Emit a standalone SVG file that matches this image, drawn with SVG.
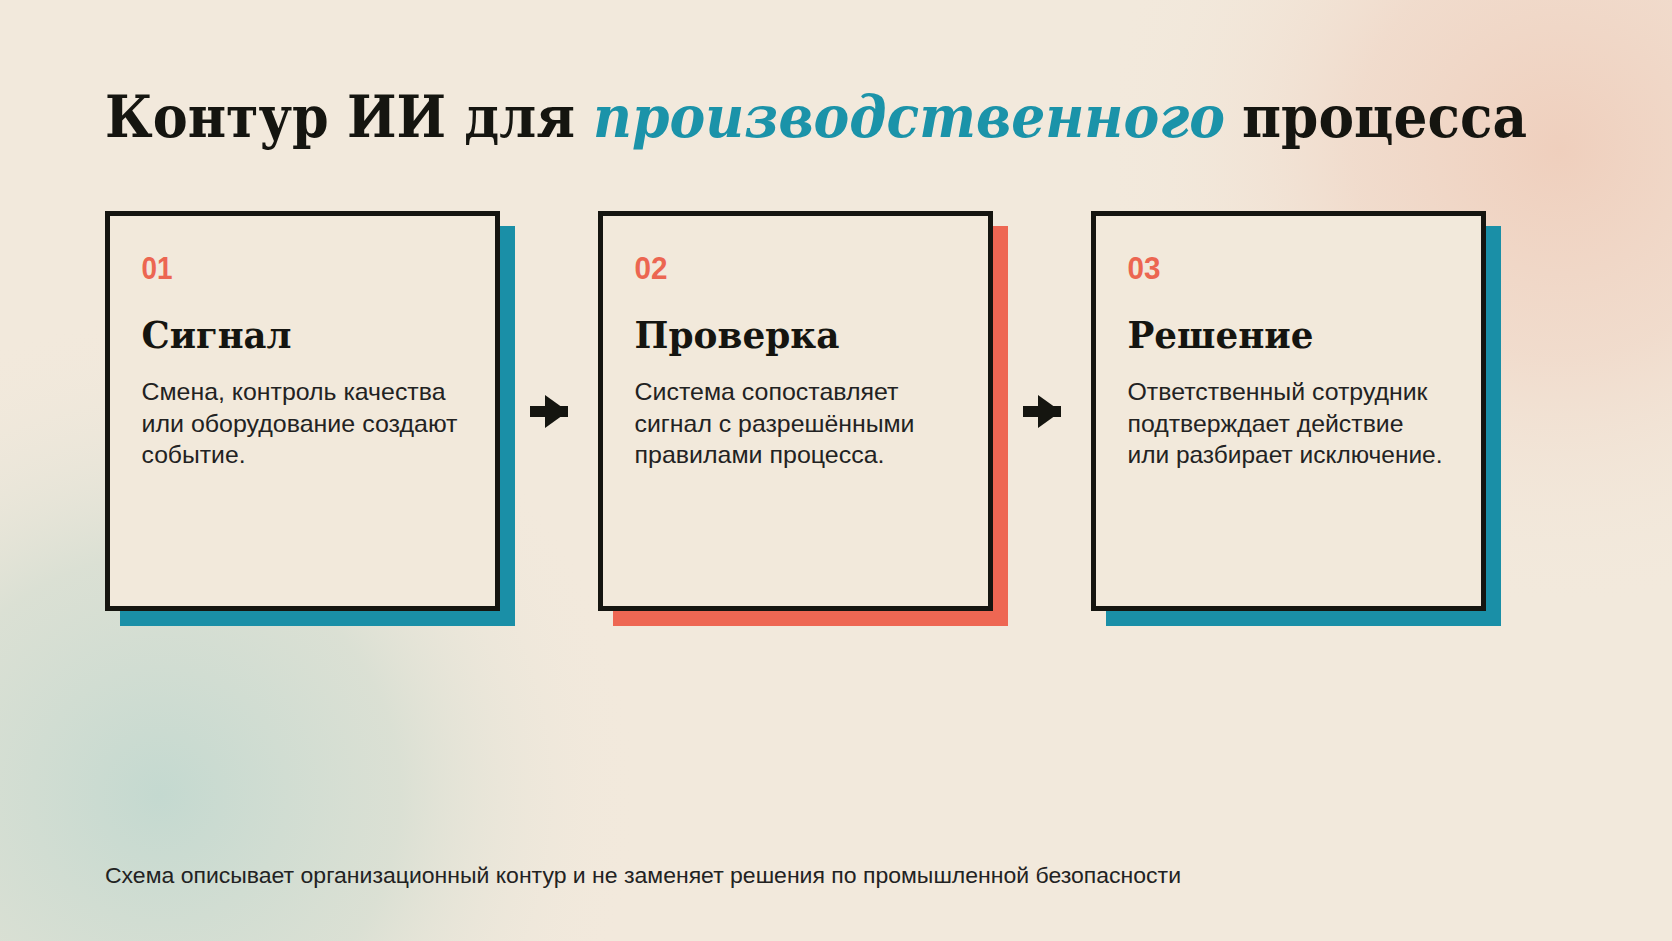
<svg xmlns="http://www.w3.org/2000/svg" width="1672" height="941" viewBox="0 0 1672 941">
<defs>
<radialGradient id="gPeach" cx="1560" cy="150" r="460" gradientUnits="userSpaceOnUse">
<stop offset="0" stop-color="#efcfbd" stop-opacity="1"/>
<stop offset="0.45" stop-color="#f0d6c6" stop-opacity="0.7"/>
<stop offset="1" stop-color="#f2e9dc" stop-opacity="0"/>
</radialGradient>
<radialGradient id="gTeal" cx="160" cy="795" r="480" gradientUnits="userSpaceOnUse">
<stop offset="0" stop-color="#c4d9d0" stop-opacity="1"/>
<stop offset="0.5" stop-color="#d3ddd1" stop-opacity="0.75"/>
<stop offset="1" stop-color="#f2e9dc" stop-opacity="0"/>
</radialGradient>
</defs>
<style>
.card{fill:#f2e9db;stroke:#151510;stroke-width:5}
.sh-teal{fill:#1a8fa7}
.sh-red{fill:#ee6753}
.num{font-family:"Liberation Sans",Arial,sans-serif;font-weight:bold;font-size:31px;fill:#ec6651}
.ttl{font-family:"DejaVu Serif","Liberation Serif",serif;font-weight:bold;font-size:37px;fill:#151510}
.body{font-family:"Liberation Sans",Arial,sans-serif;font-size:24px;fill:#222222}
.h1{font-family:"DejaVu Serif","Liberation Serif",serif;font-weight:bold;font-size:58px;fill:#151510}
.accent{fill:#1b93a9;font-style:italic}
.foot{font-family:"Liberation Sans",Arial,sans-serif;font-size:22px;fill:#222222}
.arrow{fill:#151510}
</style>
<rect x="0" y="0" width="1672" height="941" fill="#f2e9dc"/>
<rect x="0" y="0" width="1672" height="941" fill="url(#gPeach)"/>
<rect x="0" y="0" width="1672" height="941" fill="url(#gTeal)"/>

<g id="title">
<text class="h1" x="105" y="137" textLength="470" lengthAdjust="spacingAndGlyphs">Контур ИИ для</text>
<text class="h1 accent" transform="translate(593 137) scale(0.86 1)" x="0" y="0" textLength="735" lengthAdjust="spacingAndGlyphs">производственного</text>
<text class="h1" x="1242" y="137" textLength="285" lengthAdjust="spacingAndGlyphs">процесса</text>
</g>

<g id="connectors">
<g id="arrow-1-2" class="arrow">
<rect x="530" y="406" width="38" height="11"/>
<polygon points="545,395 568,411.5 545,428"/>
</g>
<g id="arrow-2-3" class="arrow">
<rect x="1023" y="406" width="38" height="11"/>
<polygon points="1038,395 1061,411.5 1038,428"/>
</g>
</g>

<g id="node-1">
<rect class="sh-teal" x="120" y="226" width="395" height="400"/>
<rect class="card" x="107.5" y="213.5" width="390" height="395"/>
<text class="num" x="141.5" y="279" textLength="31" lengthAdjust="spacingAndGlyphs">01</text>
<text class="ttl" x="141.5" y="348" textLength="150" lengthAdjust="spacingAndGlyphs">Сигнал</text>
<text class="body" x="141.5" y="400" textLength="304" lengthAdjust="spacingAndGlyphs">Смена, контроль качества</text>
<text class="body" x="141.5" y="432" textLength="316" lengthAdjust="spacingAndGlyphs">или оборудование создают</text>
<text class="body" x="141.5" y="463" textLength="104" lengthAdjust="spacingAndGlyphs">событие.</text>
</g>

<g id="node-2">
<rect class="sh-red" x="613" y="226" width="395" height="400"/>
<rect class="card" x="600.5" y="213.5" width="390" height="395"/>
<text class="num" x="634.5" y="279" textLength="33" lengthAdjust="spacingAndGlyphs">02</text>
<text class="ttl" x="634.5" y="348" textLength="205" lengthAdjust="spacingAndGlyphs">Проверка</text>
<text class="body" x="634.5" y="400" textLength="264" lengthAdjust="spacingAndGlyphs">Система сопоставляет</text>
<text class="body" x="634.5" y="432" textLength="280" lengthAdjust="spacingAndGlyphs">сигнал с разрешёнными</text>
<text class="body" x="634.5" y="463" textLength="250" lengthAdjust="spacingAndGlyphs">правилами процесса.</text>
</g>

<g id="node-3">
<rect class="sh-teal" x="1106" y="226" width="395" height="400"/>
<rect class="card" x="1093.5" y="213.5" width="390" height="395"/>
<text class="num" x="1127.5" y="279" textLength="33" lengthAdjust="spacingAndGlyphs">03</text>
<text class="ttl" x="1127.5" y="348" textLength="186" lengthAdjust="spacingAndGlyphs">Решение</text>
<text class="body" x="1127.5" y="400" textLength="300" lengthAdjust="spacingAndGlyphs">Ответственный сотрудник</text>
<text class="body" x="1127.5" y="432" textLength="276" lengthAdjust="spacingAndGlyphs">подтверждает действие</text>
<text class="body" x="1127.5" y="463" textLength="315" lengthAdjust="spacingAndGlyphs">или разбирает исключение.</text>
</g>

<g id="footer">
<text class="foot" x="105" y="883" textLength="1076" lengthAdjust="spacingAndGlyphs">Схема описывает организационный контур и не заменяет решения по промышленной безопасности</text>
</g>
</svg>
